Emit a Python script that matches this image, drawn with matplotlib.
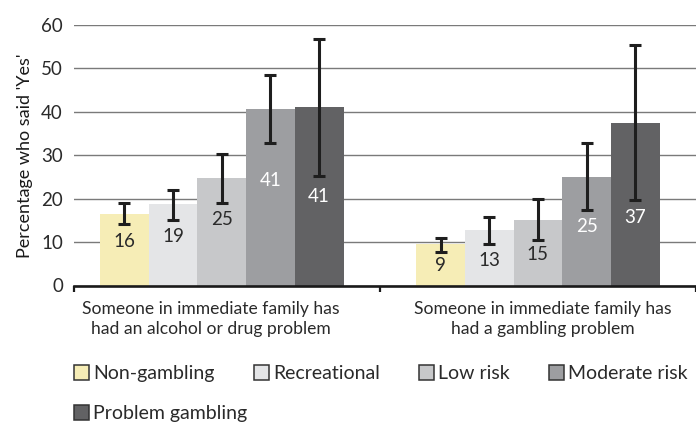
import matplotlib
matplotlib.use("Agg")
import matplotlib.pyplot as plt
from matplotlib.patches import Patch
import matplotlib.transforms as mtransforms
import numpy as np

plt.rcParams['font.family'] = ['Lato', 'DejaVu Sans']

categories = ["Someone in immediate family has\nhad an alcohol or drug problem",
              "Someone in immediate family has\nhad a gambling problem"]
series_names = ["Non-gambling", "Recreational", "Low risk", "Moderate risk", "Problem gambling"]

non_gambling = [16.4, 9.6]
recreational = [18.7, 12.7]
low_risk = [24.8, 15.2]
moderate_risk = [40.6, 25.1]
problem_gambling = [41.0, 37.4]

non_gambling_ci = ([14.2, 7.8], [18.9, 11.0])
recreational_ci = ([15.2, 9.6], [21.9, 15.8])
low_risk_ci = ([19.1, 10.4], [30.3, 20.0])
moderate_risk_ci = ([32.8, 17.5], [48.5, 32.8])
problem_gambling_ci = ([25.3, 19.7], [56.7, 55.3])

non_gambling_labels = [16, 9]
recreational_labels = [19, 13]
low_risk_labels = [25, 15]
moderate_risk_labels = [41, 25]
problem_gambling_labels = [41, 37]

# label vertical positions (data units) as placed in the original
label_y = [[10.2, 4.6], [11.3, 5.8], [15.1, 7.1], [24.2, 13.6], [20.5, 15.7]]

colors = ["#F6EDB6", "#E4E5E7", "#C7C8CA", "#9D9EA1", "#626264"]
label_colors = ["#2a2a2a", "#2a2a2a", "#2a2a2a", "white", "white"]

y_ticks = [0, 10, 20, 30, 40, 50, 60]

all_vals = [non_gambling, recreational, low_risk, moderate_risk, problem_gambling]
all_ci = [non_gambling_ci, recreational_ci, low_risk_ci, moderate_risk_ci, problem_gambling_ci]
all_labels = [non_gambling_labels, recreational_labels, low_risk_labels,
              moderate_risk_labels, problem_gambling_labels]

W, H = 696, 424
fig = plt.figure(figsize=(W / 100, H / 100), dpi=100)
ax = fig.add_axes([74 / W, (H - 285.5) / H, 622 / W, (285.5 - 25) / H])

x = np.arange(len(categories))
bw = 0.154
for i, (vals, ci, labs) in enumerate(zip(all_vals, all_ci, all_labels)):
    xs = x + (i - 2) * bw
    vals = np.array(vals)
    lo = vals - np.array(ci[0])
    hi = np.array(ci[1]) - vals
    ax.bar(xs, vals, width=bw, color=colors[i], edgecolor='none', zorder=2,
           label=series_names[i])
    ax.errorbar(xs, vals, yerr=[lo, hi], fmt='none', ecolor='#1e1e1e',
                elinewidth=2.2, capsize=4.5, capthick=2.2, zorder=3)
    for xx, yy, lab in zip(xs, label_y[i], labs):
        ax.text(xx, yy, str(lab), ha='center', va='center', fontsize=13.5,
                color=label_colors[i], zorder=4)

ax.set_ylim(0, 60)
ax.set_xlim(-0.4675, 1.5)
ax.set_yticks(y_ticks)
ax.tick_params(axis='y', length=0, labelsize=13.5, pad=8, labelcolor='#2a2a2a')
ax.yaxis.grid(True, color='#7a7a7a', linewidth=1.0, zorder=0)
ax.set_axisbelow(True)
for s in ['left', 'right', 'top']:
    ax.spines[s].set_visible(False)
ax.spines['bottom'].set_linewidth(1.9)
ax.spines['bottom'].set_color('#1a1a1a')
ax.set_xticks([-0.4675, 0.5, 1.5])
ax.set_xticklabels([])
ax.tick_params(axis='x', length=4, width=1.6, color='#1a1a1a', direction='out')

cat_x = [-0.035, 1.015]
trans = mtransforms.blended_transform_factory(ax.transData, ax.transAxes)
for cx, cat in zip(cat_x, categories):
    ax.annotate(cat, xy=(cx, 0), xycoords=trans, xytext=(0, -11),
                textcoords='offset points', ha='center', va='top',
                fontsize=12.6, color='#2a2a2a', linespacing=1.3)

ax.set_ylabel("Percentage who said 'Yes'", fontsize=13, color='#1a1a1a', labelpad=6)

handles = [Patch(facecolor=c, edgecolor='#333333', linewidth=1.1) for c in colors]
leg_kw = dict(frameon=False, fontsize=14, handlelength=0.78, handleheight=0.78,
              handletextpad=0.2, columnspacing=2.02, borderpad=0, borderaxespad=0,
              loc='upper left', labelcolor='#2a2a2a')
leg1 = fig.legend(handles[:4], series_names[:4], ncol=4,
                  bbox_to_anchor=(74 / W, 1 - 365 / H), **leg_kw)
leg2 = fig.legend(handles[4:], series_names[4:], ncol=1,
                  bbox_to_anchor=(74 / W, 1 - 405 / H), **leg_kw)

fig.savefig("out.png", dpi=100)
